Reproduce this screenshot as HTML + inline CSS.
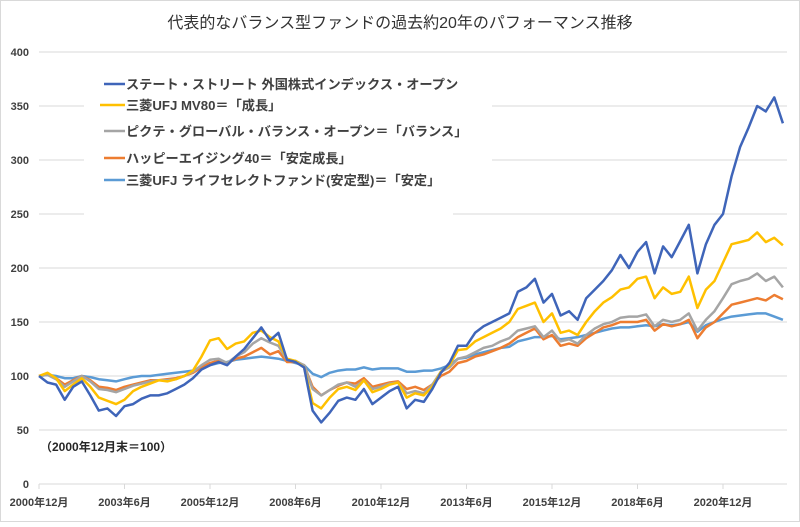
<!DOCTYPE html>
<html><head><meta charset="utf-8">
<style>
html,body{margin:0;padding:0;background:#fff;}
body{width:800px;height:522px;overflow:hidden;font-family:"Liberation Sans","Noto Sans CJK JP",sans-serif;}
svg text{font-family:"Liberation Sans","Noto Sans CJK JP",sans-serif;}
</style></head>
<body>
<svg id="chart" width="800" height="522" viewBox="0 0 800 522" xmlns="http://www.w3.org/2000/svg">
<rect x="0.5" y="0.5" width="799" height="521" fill="#fff" stroke="#d9d9d9"/>
<text x="400" y="28" text-anchor="middle" font-size="16" fill="#333">代表的なバランス型ファンドの過去約20年のパフォーマンス推移</text>
<g id="grid"></g>
<g id="yticks"></g>
<g id="xaxis"></g>
<g id="series"></g>
<g id="legend"></g>
<text x="40" y="451" font-size="12" font-weight="bold" fill="#262626">（2000年12月末＝100）</text>
</svg>
<script>
const yTicks=[0,50,100,150,200,250,300,350,400];
const xLabels=["2000年12月","2003年6月","2005年12月","2008年6月","2010年12月","2013年6月","2015年12月","2018年6月","2020年12月"];
const xLabelMonths=[0,30,60,90,120,150,180,210,240];
const stepMonths=3;
const seriesNames=["ステート・ストリート 外国株式インデックス・オープン","三菱UFJ MV80＝「成長」","ピクテ・グローバル・バランス・オープン＝「バランス」","ハッピーエイジング40＝「安定成長」","三菱UFJ ライフセレクトファンド(安定型)＝「安定」"];
const blueVals=[100,94,92,78,90,95,82,68,70,63,72,74,79,82,82,84,88,92,98,106,110,113,110,118,125,135,145,133,140,115,113,108,68,57,66,77,80,78,88,74,80,86,90,70,78,76,88,103,112,128,128,140,146,150,154,158,178,182,190,168,176,156,160,152,172,180,188,198,212,200,215,224,195,220,210,225,240,195,222,240,250,285,312,330,350,345,358,334];
const yellowVals=[100,103,98,86,92,98,90,80,77,74,78,86,90,93,96,95,97,100,105,118,133,135,125,130,132,140,142,136,132,116,114,108,75,70,80,88,90,87,96,85,88,92,94,80,84,82,90,104,110,124,125,132,136,140,144,150,162,165,168,150,158,140,142,138,150,160,168,173,180,182,190,192,172,182,176,178,192,163,180,188,205,222,224,226,233,224,228,221];
const grayVals=[100,101,97,90,95,100,95,88,87,85,88,91,93,95,96,96,97,100,104,110,115,116,112,118,122,130,135,131,128,115,114,110,88,82,87,92,94,90,96,88,90,93,94,84,86,84,92,104,108,116,118,122,126,128,132,135,142,144,146,136,142,132,134,130,138,144,148,150,154,155,155,157,146,152,150,152,158,142,152,160,172,185,188,190,195,188,192,182];
const orangeVals=[100,102,98,92,96,100,96,90,89,87,90,92,94,96,96,97,98,100,103,108,112,114,112,116,118,122,126,120,123,113,113,110,90,82,87,91,94,93,98,90,92,94,95,88,90,87,92,100,104,112,114,118,120,123,126,130,136,140,144,134,138,128,130,128,135,140,145,147,150,150,150,152,142,148,146,148,152,135,145,150,158,166,168,170,172,170,175,171];
const lightVals=[100,101,100,98,98,100,99,97,96,95,97,99,100,100,101,102,103,104,105,107,110,112,113,115,116,117,118,117,116,114,112,110,102,99,103,105,106,106,108,106,107,107,107,104,104,105,105,107,110,116,117,120,122,124,126,127,132,134,136,136,137,134,135,136,138,140,142,144,145,145,146,147,146,148,147,148,150,141,147,150,153,155,156,157,158,158,155,152];
const seriesColors=["#3F65B9","#FFC000","#A5A5A5","#ED7D31","#5B9BD5"];
const seriesVals=[blueVals,yellowVals,grayVals,orangeVals,lightVals];
const seriesKeys=["state-street","mv80-growth","pictet-balance","happy-aging-40","life-select-stable"];

const NS="http://www.w3.org/2000/svg";
const X0=39, PXM=2.85, Y0=484, PXU=1.08, XR=787;
function xScale(m){return X0+m*PXM;}
function yScale(v){return Y0-v*PXU;}
function mk(tag,attrs,parent){const e=document.createElementNS(NS,tag);for(const k in attrs)e.setAttribute(k,attrs[k]);parent.appendChild(e);return e;}

const grid=document.getElementById('grid');
const yt=document.getElementById('yticks');
yTicks.forEach(v=>{
  if(v>0){
    const l=mk('line',{x1:X0,x2:XR,y1:yScale(v),y2:yScale(v),stroke:'#d9d9d9','stroke-width':1},grid);
    
    
  }
  const t=mk('text',{x:29,y:yScale(v)+4,'text-anchor':'end','font-size':11,'font-weight':'bold',fill:'#404040'},yt);
  t.textContent=v;
  
  
});
const xa=document.getElementById('xaxis');
const axl=mk('line',{x1:X0,x2:XR,y1:Y0,y2:Y0,stroke:'#d9d9d9','stroke-width':1},xa);


xLabels.forEach((lab,i)=>{
  const x=xScale(xLabelMonths[i]);
  const tk=mk('line',{x1:x,x2:x,y1:Y0,y2:Y0+5,stroke:'#d9d9d9'},xa);
  
  
  const t=mk('text',{x:x,y:506,'text-anchor':'middle','font-size':11,'font-weight':'bold',fill:'#404040'},xa);
  t.textContent=lab;
  
  
});
const sg=document.getElementById('series');
for(let s=seriesVals.length-1;s>=0;s--){
  const vals=seriesVals[s];
  const pts=vals.map((v,i)=>xScale(i*stepMonths).toFixed(1)+','+yScale(v).toFixed(1)).join(' ');
  const p=mk('polyline',{points:pts,fill:'none',stroke:seriesColors[s],'stroke-width':2.5,'stroke-linejoin':'round'},sg);
  
  
}
const lg=document.getElementById('legend');
const bg1=mk('rect',{x:84,y:60,width:408,height:142,fill:'#fff'},lg);


const bg2=mk('rect',{x:84,y:200,width:369,height:18,fill:'#fff'},lg);


const legY=[84,105,131,158,180];
const legX1=[104,100,104,104,104];
seriesNames.forEach((n,i)=>{
  const l=mk('line',{x1:legX1[i],x2:125,y1:legY[i],y2:legY[i],stroke:seriesColors[i],'stroke-width':2.5},lg);
  
  
  const t=mk('text',{x:126,y:legY[i]+5,'font-size':13.2,'font-weight':'bold',fill:'#404040'},lg);
  t.textContent=n;
  
  
});
</script>
</body></html>
